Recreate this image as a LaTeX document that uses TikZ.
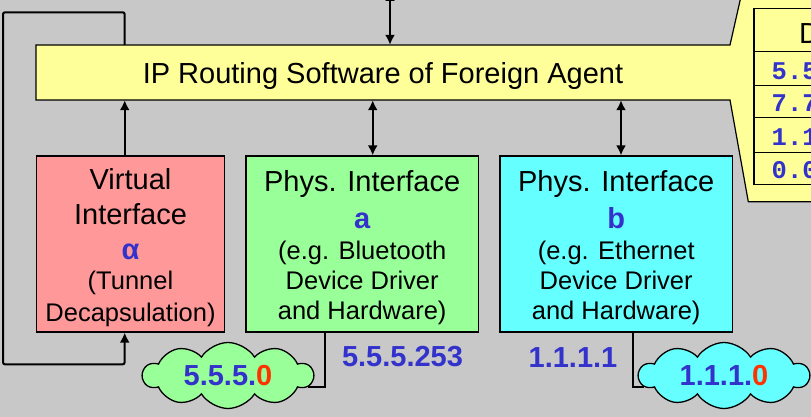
\documentclass[tikz,border=0pt]{standalone}
\usepackage{fontspec}
\setmainfont{Liberation Sans}
\newfontfamily\tabmono{Liberation Mono}
\usetikzlibrary{arrows.meta,shapes.symbols,calc}
\definecolor{bg}{RGB}{200,200,200}
\definecolor{ylw}{RGB}{255,255,153}
\definecolor{pinkbox}{RGB}{255,153,153}
\definecolor{greenbox}{RGB}{153,255,153}
\definecolor{cyanbox}{RGB}{102,255,255}
\definecolor{ipblue}{RGB}{51,51,204}
\definecolor{ipred}{RGB}{255,51,0}
\newcommand{\bigf}{\fontsize{29}{35}\selectfont}
\newcommand{\smallf}{\fontsize{25.5}{30}\selectfont}
\newcommand{\topstrut}{\rule{0pt}{28pt}}
\begin{document}
\begin{tikzpicture}[x=1pt,y=-1pt,
  ifbox/.style={draw=black, line width=1.2pt, minimum width=#1, minimum height=176pt,
    inner sep=0pt, align=center, font=\bigf},
  conn/.style={line width=2pt},
  arr/.style={line width=2pt, -{Latex[length=10pt,width=10pt]}},
  dblarr/.style={line width=2pt, {Latex[length=10pt,width=10pt]}-{Latex[length=10pt,width=10pt]}},
  netcloud/.style={cloud, cloud puffs=10, cloud puff arc=115, aspect=2.6, cloud ignores aspect,
    draw=black, line width=1.3pt, minimum width=170pt, minimum height=66pt, inner sep=0pt,
    font=\bigf\bfseries},
  addr/.style={anchor=base, font=\bigf\bfseries, text=ipblue},
  rowtxt/.style={anchor=base west, font=\fontsize{25.5}{28}\tabmono\bfseries, text=ipblue, inner sep=0pt}
]
\useasboundingbox (0,0) rectangle (811,417);
\clip (0,0) rectangle (811,417);
\fill[bg] (0,0) rectangle (811,417);

% bar with routing-table callout
\draw[line width=1.2pt, fill=ylw] (36,45) -- (730,45) -- (742,-8) -- (840,-8) -- (840,201.7)
  -- (748.3,201.7) -- (730,100) -- (36,100) -- cycle;
\node[minimum width=694pt, minimum height=55pt, inner sep=0pt, font=\bigf,
  text height=30pt, text depth=8.4pt] (ip) at (383,72.5) {IP Routing Software of Foreign Agent};

% routing table (cut by the page edge)
\draw[line width=1.2pt] (754,8.3) rectangle (900,184.3);
\foreach \yy in {51.7,85.7,117.7,152.3} \draw[line width=1.2pt] (754,\yy) -- (900,\yy);
\node[anchor=base west, font=\bigf, inner sep=0pt] (thead) at (799,43.3) {D};
\node[rowtxt] (r1) at (771.5,80) {5.5};
\node[rowtxt] (r2) at (771.5,112) {7.7};
\node[rowtxt] (r3) at (771.5,145.5) {1.1};
\node[rowtxt] (r4) at (771.5,178.5) {0.0};

% interface boxes
\node[ifbox=187.6pt, fill=pinkbox] (pnk) at (130.5,244)
  {\topstrut Virtual\\Interface\\{\bfseries\color{ipblue}α}\\[-5pt]{\smallf(Tunnel}\\[-3pt]{\smallf Decapsulation)}};
\node[ifbox=232.3pt, fill=greenbox] (grn) at (362.2,244)
  {\topstrut Phys. Interface\\[2pt]{\bfseries\color{ipblue}a}\\[-4pt]{\smallf(e.g. Bluetooth}\\[-5pt]{\smallf Device Driver}\\[-5pt]{\smallf and Hardware)}};
\node[ifbox=232.3pt, fill=cyanbox] (cyn) at (616.2,244)
  {\topstrut Phys. Interface\\[2pt]{\bfseries\color{ipblue}b}\\[-4pt]{\smallf(e.g. Ethernet}\\[-5pt]{\smallf Device Driver}\\[-5pt]{\smallf and Hardware)}};

% networks
\node[netcloud, fill=greenbox] (cl1) at (228,375.5) {\color{ipblue}5.5.5.\color{ipred}0};
\node[netcloud, fill=cyanbox] (cl2) at (724,375.5) {\color{ipblue}1.1.1.\color{ipred}0};
\node[addr] (lbla) at (402.5,366.7) {5.5.5.253};
\node[addr] (lblb) at (573,367.7) {1.1.1.1};

% connectors
\coordinate (xt) at (390,-9);
\coordinate (xp) at (124.7,0);
\coordinate (xg) at (372.7,0);
\coordinate (xc) at (621,0);
\coordinate (xgc) at (325,0);
\coordinate (xcc) at (632.7,0);
\coordinate (lt) at (3,12.3);
\coordinate (lb) at (3,364.3);
\draw[dblarr] (xt) -- (ip.north -| xt);
\draw[arr] (pnk.north -| xp) -- (ip.south -| xp);
\draw[dblarr] (ip.south -| xg) -- (grn.north -| xg);
\draw[dblarr] (ip.south -| xc) -- (cyn.north -| xc);
\draw[arr, rounded corners=2pt] (ip.north -| xp) |- (lt) -- (lb) -| (pnk.south -| xp);
\draw[conn] (grn.south -| xgc) |- (cl1.-8);
\draw[conn] (cyn.south -| xcc) |- (cl2.188);
\end{tikzpicture}
\end{document}
